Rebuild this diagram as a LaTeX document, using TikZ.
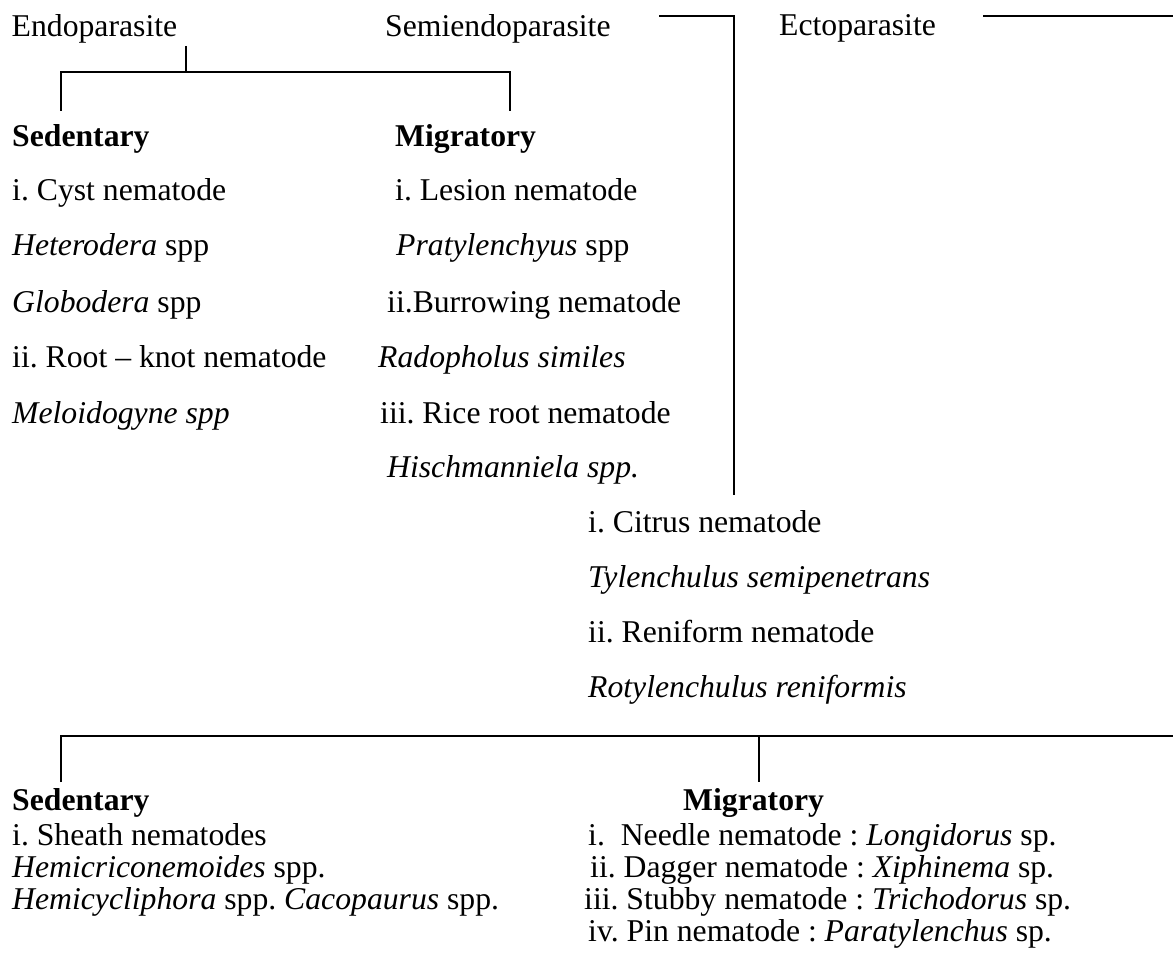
\documentclass[tikz,border=0pt]{standalone}
\usepackage{fontspec}
\setmainfont{Liberation Serif}
\frenchspacing
\begin{document}
\begin{tikzpicture}[x=1pt,y=-1pt,
  txt/.style={inner sep=0pt, anchor=base west, font=\fontsize{31.7pt}{38pt}\selectfont},
  conn/.style={line width=1.6pt, black}]
\useasboundingbox (0,0) rectangle (1173,960);
% top row
\node[txt] (endo) at (11.5,37) {Endoparasite};
\node[txt] (semi) at (385,37) {Semiendoparasite};
\node[txt] (ecto) at (779,36) {Ectoparasite};
% endoparasite: sedentary
\node[txt] (sedA) at (12,147) {\textbf{Sedentary}};
\node[txt] (sa1) at (12,201) {i. Cyst nematode};
\node[txt] (sa2) at (12,256) {\textit{Heterodera} spp};
\node[txt] (sa3) at (12,312) {\textit{Globodera} spp};
\node[txt] (sa4) at (12,367) {ii. Root -- knot nematode};
\node[txt] (sa5) at (12,423) {\textit{Meloidogyne spp}};
% endoparasite: migratory
\node[txt] (migA) at (395,147) {\textbf{Migratory}};
\node[txt] (ma1) at (395,201) {i. Lesion nematode};
\node[txt] (ma2) at (396,256) {\textit{Pratylenchyus} spp};
\node[txt] (ma3) at (387,312) {ii.Burrowing nematode};
\node[txt] (ma4) at (378,367) {\textit{Radopholus similes}};
\node[txt] (ma5) at (380,423) {iii. Rice root nematode};
\node[txt] (ma6) at (387,477) {\textit{Hischmanniela spp.}};
% semiendoparasite
\node[txt] (c1) at (588,532) {i. Citrus nematode};
\node[txt] (c2) at (588,587) {\textit{Tylenchulus semipenetrans}};
\node[txt] (c3) at (588,642) {ii. Reniform nematode};
\node[txt] (c4) at (588,697) {\textit{Rotylenchulus reniformis}};
% ectoparasite: sedentary
\node[txt] (sedB) at (12,810) {\textbf{Sedentary}};
\node[txt] (sb1) at (12,845) {i. Sheath nematodes};
\node[txt] (sb2) at (12,877) {\textit{Hemicriconemoides} spp.};
\node[txt] (sb3) at (12,909) {\textit{Hemicycliphora} spp. \textit{Cacopaurus} spp.};
% ectoparasite: migratory
\node[txt] (migB) at (683,810) {\textbf{Migratory}};
\node[txt] (mb1) at (588,845) {i.\hspace{0.5em}Needle nematode : \textit{Longidorus} sp.};
\node[txt] (mb2) at (590,877) {ii. Dagger nematode : \textit{Xiphinema} sp.};
\node[txt] (mb3) at (584,909) {iii. Stubby nematode : \textit{Trichodorus} sp.};
\node[txt] (mb4) at (588,941) {iv. Pin nematode : \textit{Paratylenchus} sp.};
% connector points
\coordinate (e1) at (186,46);
\coordinate (e2) at (186,72);
\coordinate (bl) at (61,72);
\coordinate (br) at (510,72);
\coordinate (bl2) at (61,111);
\coordinate (br2) at (510,111);
\coordinate (s1) at (659,16);
\coordinate (s2) at (734,16);
\coordinate (s3) at (734,495);
\coordinate (x1) at (983,16);
\coordinate (x2) at (1173,16);
\coordinate (y1) at (61,782);
\coordinate (y2) at (61,736);
\coordinate (y3) at (1173,736);
\coordinate (ym) at (759,736);
\coordinate (ym2) at (759,782);
% connectors
\draw[conn] (e1) -- (e2);
\draw[conn] (bl2) -- (bl) -- (br) -- (br2);
\draw[conn] (s1) -- (s2) -- (s3);
\draw[conn] (x1) -- (x2);
\draw[conn] (y1) -- (y2) -- (y3);
\draw[conn] (ym) -- (ym2);
\end{tikzpicture}
\end{document}
